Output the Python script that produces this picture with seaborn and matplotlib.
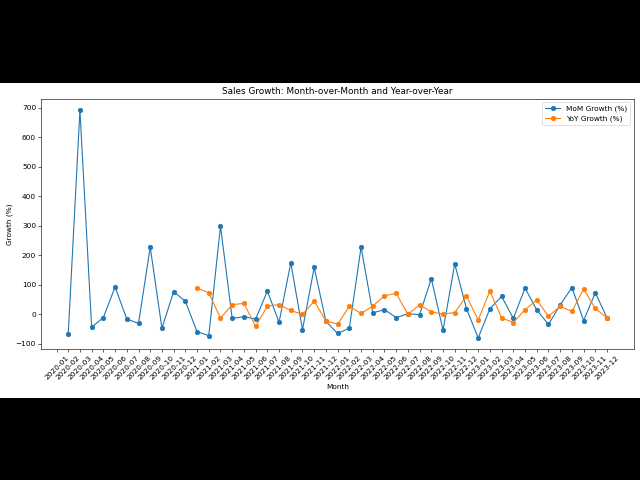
import numpy as np
import pandas as pd
import seaborn as sns
import matplotlib.pyplot as plt
from matplotlib.patches import Rectangle

months = [f"{y}-{m:02d}" for y in range(2020, 2024) for m in range(1, 13)]

# MoM growth, first month has no previous value
mom_growth = [np.nan, -69, 692, -45, -12, 92, -17, -32, 227, -48, 76, 43,
              -60, -73, 298, -15, -9, -17, 78, -28, 174, -53, 158, -25,
              -66, -48, 227, 4, 15, -12, 1, -2, 120, -55, 170, 18,
              -81, 18, 60, -15, 88, 14, -35, 31, 90, -22, 72, -13]

# YoY growth, starts in 2021
yoy_growth = [np.nan] * 12 + [88, 72, -14, 32, 36, -42, 27, 32, 12, -1, 44, -24,
                              -34, 26, 2, 27, 62, 70, -1, 31, 7, 0, 5, 61,
                              -20, 78, -13, -29, 15, 47, -7, 26, 9, 85, 19, -13]

df = pd.DataFrame({"pos": np.arange(len(months)), "month": months,
                   "mom": mom_growth, "yoy": yoy_growth})

# the reference is a wide chart letterboxed in a 640x480 frame
fig = plt.figure(figsize=(12, 9), dpi=640 / 12, facecolor="black")
fig.patches.append(Rectangle((0, 0.1708), 1, 0.6563, transform=fig.transFigure,
                             facecolor="white", edgecolor="none", zorder=-10))
ax = fig.add_axes([0.0645, 0.2723, 0.9261, 0.5221])

blue, orange = "#1f77b4", "#ff7f0e"
sns.lineplot(data=df, x="pos", y="mom", marker="o", color=blue, markeredgecolor=blue,
             markeredgewidth=1, label="MoM Growth (%)", ax=ax)
sns.lineplot(data=df, x="pos", y="yoy", marker="o", color=orange, markeredgecolor=orange,
             markeredgewidth=1, label="YoY Growth (%)", ax=ax)

ax.set_xticks(df["pos"], df["month"], rotation=45)
ax.set_title("Sales Growth: Month-over-Month and Year-over-Year")
ax.set_xlabel("Month")
ax.set_ylabel("Growth (%)")
ax.legend(loc="upper right")

plt.savefig("out.png")
plt.close()
